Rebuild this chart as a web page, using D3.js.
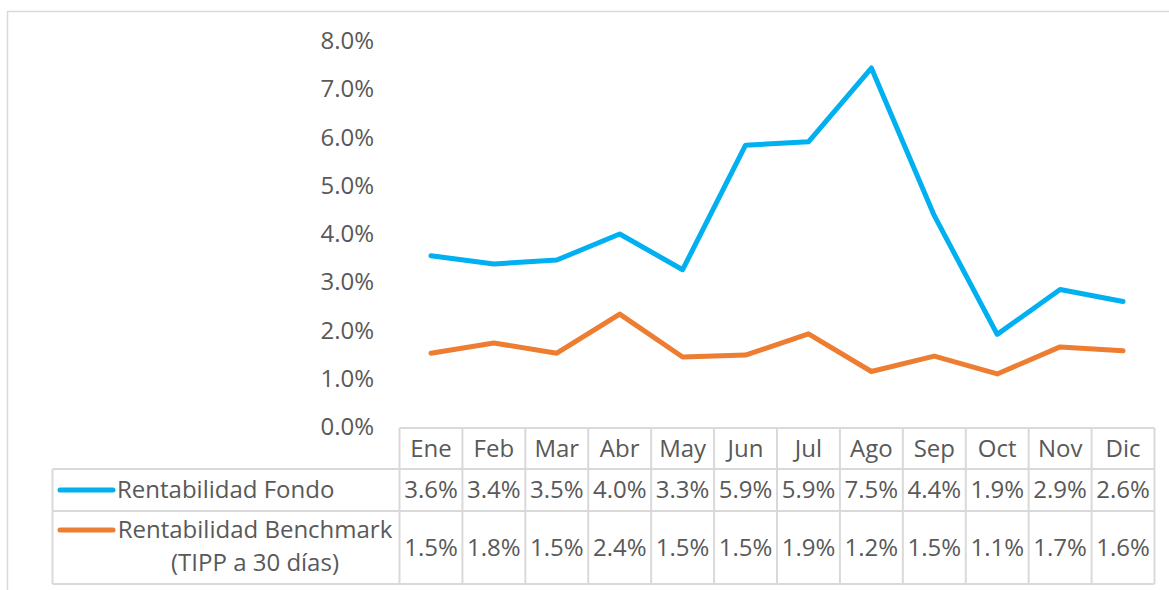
<!DOCTYPE html>
<html>
<head>
<meta charset="utf-8">
<script src="https://cdn.jsdelivr.net/npm/d3@7"></script>
<style>
  body { margin: 0; background: #fff; }
  text { font-family: "Open Sans", sans-serif; fill: #595959; }
</style>
</head>
<body>
<div id="container"></div>
<script>
/* DATA */
const months = ["Ene", "Feb", "Mar", "Abr", "May", "Jun", "Jul", "Ago", "Sep", "Oct", "Nov", "Dic"];
const fondo = [3.55, 3.38, 3.46, 4.0, 3.26, 5.84, 5.91, 7.44, 4.38, 1.92, 2.85, 2.6];
const benchmark = [1.53, 1.74, 1.53, 2.34, 1.45, 1.49, 1.93, 1.15, 1.47, 1.1, 1.66, 1.58];
const fondoLabels = ["3.6%", "3.4%", "3.5%", "4.0%", "3.3%", "5.9%", "5.9%", "7.5%", "4.4%", "1.9%", "2.9%", "2.6%"];
const benchLabels = ["1.5%", "1.8%", "1.5%", "2.4%", "1.5%", "1.5%", "1.9%", "1.2%", "1.5%", "1.1%", "1.7%", "1.6%"];
const yTicks = [0, 1, 2, 3, 4, 5, 6, 7, 8];

/* CONSTANTS */
const width = 1169;
const height = 590;
const gridColor = "#d9d9d9";
const fontSize = 24;

const svg = d3.select("#container")
  .append("svg")
  .attr("width", width)
  .attr("height", height)

// outer chart frame
svg.append("rect")
  .attr("x", 7.5)
  .attr("y", 11.5)
  .attr("width", width)
  .attr("height", height)
  .attr("fill", "none")
  .attr("stroke", gridColor)
  .attr("stroke-width", 1.5)

/* SCALES */
const xScale = d3.scaleBand()
  .domain(months)
  .range([399.5, 1154.5])

const yScale = d3.scaleLinear()
  .domain([0, 8])
  .range([427, 41])

// Y axis
const yAxis = svg.append("g")
  .attr("class", "y-axis")
  .attr("transform", "translate(374,0)")
  .call(d3.axisLeft(yScale).tickValues(yTicks).tickFormat(d => d.toFixed(1) + "%").tickSize(0).tickPadding(0))
yAxis.select(".domain").remove()
yAxis.selectAll("text")
  .style("font-size", fontSize + "px")
  .style("font-family", "Open Sans")
  .attr("fill", "#595959")

/* LINES */
const line = d3.line()
  .x((d, i) => xScale(months[i]) + xScale.bandwidth() / 2)
  .y(d => yScale(d))

svg.append("path")
  .datum(fondo)
  .attr("d", line)
  .attr("fill", "none")
  .attr("stroke", "#00B0F0")
  .attr("stroke-width", 5)
  .attr("stroke-linejoin", "round")
  .attr("stroke-linecap", "round")

svg.append("path")
  .datum(benchmark)
  .attr("d", line)
  .attr("fill", "none")
  .attr("stroke", "#ED7D31")
  .attr("stroke-width", 5)
  .attr("stroke-linejoin", "round")
  .attr("stroke-linecap", "round")

/* DATA TABLE */
const rowTop = 428;
const row1 = 469;
const row2 = 511;
const rowBottom = 584;
const tableLeft = 52.5;
const tableRight = xScale.range()[1];

const grid = svg.append("g")
  .attr("stroke", gridColor)
  .attr("stroke-width", 2)

// horizontal rules
grid.append("line").attr("x1", xScale.range()[0]).attr("x2", tableRight).attr("y1", rowTop).attr("y2", rowTop)
;[row1, row2, rowBottom].forEach(y => {
  grid.append("line").attr("x1", tableLeft).attr("x2", tableRight).attr("y1", y).attr("y2", y)
})

// vertical rules
months.forEach(m => {
  grid.append("line").attr("x1", xScale(m)).attr("x2", xScale(m)).attr("y1", rowTop).attr("y2", rowBottom)
})
grid.append("line").attr("x1", tableRight).attr("x2", tableRight).attr("y1", rowTop).attr("y2", rowBottom)
grid.append("line").attr("x1", tableLeft).attr("x2", tableLeft).attr("y1", row1).attr("y2", rowBottom)

// cell text
const cellText = (labels, yMid) => {
  svg.append("g")
    .selectAll("text")
    .data(labels)
    .join("text")
    .attr("x", (d, i) => xScale(months[i]) + xScale.bandwidth() / 2)
    .attr("y", yMid)
    .attr("dy", "0.35em")
    .attr("text-anchor", "middle")
    .style("font-size", fontSize + "px")
    .text(d => d)
}
cellText(months, (rowTop + row1) / 2)
cellText(fondoLabels, (row1 + row2) / 2)
cellText(benchLabels, (row2 + rowBottom) / 2)

// legend keys
svg.append("line")
  .attr("x1", 60).attr("x2", 113)
  .attr("y1", (row1 + row2) / 2).attr("y2", (row1 + row2) / 2)
  .attr("stroke", "#00B0F0").attr("stroke-width", 5).attr("stroke-linecap", "round")

svg.append("text")
  .attr("x", 117)
  .attr("y", (row1 + row2) / 2)
  .attr("dy", "0.35em")
  .style("font-size", fontSize + "px")
  .text("Rentabilidad Fondo")

svg.append("line")
  .attr("x1", 60).attr("x2", 113)
  .attr("y1", 530).attr("y2", 530)
  .attr("stroke", "#ED7D31").attr("stroke-width", 5).attr("stroke-linecap", "round")

svg.append("text")
  .attr("x", 255)
  .attr("y", 530)
  .attr("dy", "0.35em")
  .attr("text-anchor", "middle")
  .style("font-size", fontSize + "px")
  .text("Rentabilidad Benchmark")

svg.append("text")
  .attr("x", 255)
  .attr("y", 563)
  .attr("dy", "0.35em")
  .attr("text-anchor", "middle")
  .style("font-size", fontSize + "px")
  .text("(TIPP a 30 días)")
</script>
</body>
</html>
